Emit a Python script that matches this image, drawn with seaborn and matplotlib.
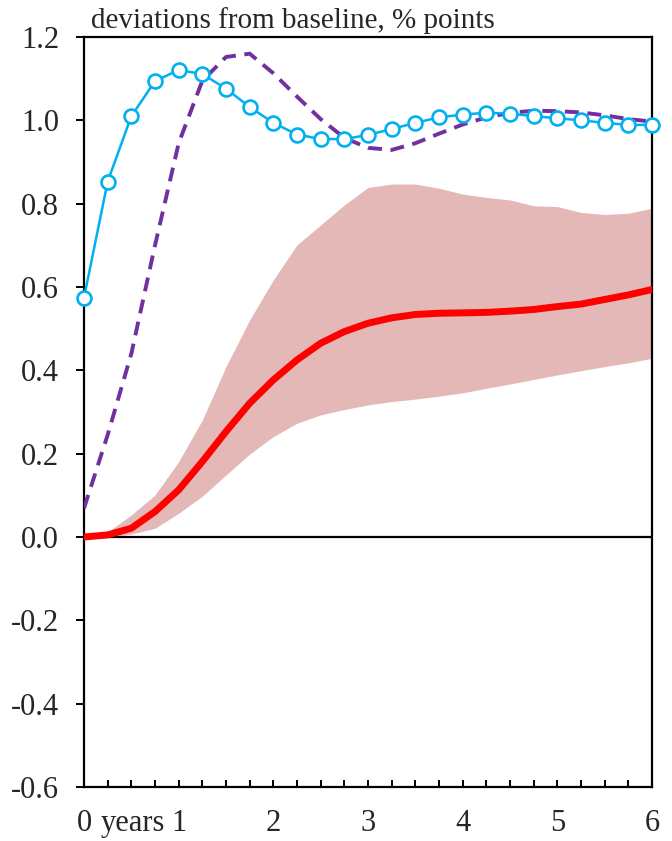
import numpy as np
import pandas as pd
import matplotlib
matplotlib.use("Agg")
import matplotlib.pyplot as plt
import seaborn as sns
from matplotlib.ticker import FormatStrFormatter, MultipleLocator

sns.set_style("white")
plt.rcParams["font.family"] = ["Liberation Serif", "DejaVu Serif"]
plt.rcParams["axes.unicode_minus"] = False

# === Data (quarterly, 0..24 quarters) ===
quarters = np.arange(25)
years = quarters / 4

cyan_vals = [0.574, 0.853, 1.010, 1.094, 1.121, 1.111, 1.076, 1.032, 0.994, 0.966,
             0.955, 0.955, 0.965, 0.979, 0.994, 1.007, 1.014, 1.018, 1.016, 1.010,
             1.005, 1.000, 0.994, 0.989, 0.989]
purple_vals = [0.069, 0.245, 0.440, 0.700, 0.945, 1.095, 1.152, 1.160, 1.113, 1.057,
               1.003, 0.958, 0.934, 0.929, 0.945, 0.968, 0.990, 1.007, 1.018, 1.023,
               1.022, 1.019, 1.012, 1.003, 0.997]
red_vals = [0.0, 0.005, 0.021, 0.061, 0.113, 0.181, 0.253, 0.321, 0.377, 0.425,
            0.465, 0.493, 0.513, 0.526, 0.534, 0.537, 0.538, 0.539, 0.542, 0.546,
            0.553, 0.559, 0.570, 0.581, 0.594]
band_upper = [0.0, 0.012, 0.053, 0.101, 0.181, 0.281, 0.409, 0.521, 0.617, 0.701,
              0.749, 0.797, 0.839, 0.847, 0.847, 0.837, 0.823, 0.815, 0.809, 0.795,
              0.793, 0.779, 0.774, 0.777, 0.789]
band_lower = [0.0, 0.0, 0.007, 0.021, 0.057, 0.098, 0.149, 0.199, 0.241, 0.273,
              0.293, 0.306, 0.317, 0.325, 0.331, 0.338, 0.346, 0.357, 0.367, 0.378,
              0.389, 0.399, 0.409, 0.418, 0.429]

df = pd.DataFrame({"years": years, "cyan": cyan_vals, "purple": purple_vals,
                   "red": red_vals, "upper": band_upper, "lower": band_lower})

# === Plot ===
fig = plt.figure(figsize=(6.72, 8.41), dpi=100)
ax = fig.add_axes([84 / 672, 1 - 787 / 841, 568 / 672, 750 / 841])

ax.fill_between(df["years"], df["lower"], df["upper"], color="#E4B8B7", lw=0, zorder=1)
ax.axhline(0, color="black", lw=1.6, zorder=2)
sns.lineplot(data=df, x="years", y="red", ax=ax, color="#FF0000", lw=5, zorder=3)
sns.lineplot(data=df, x="years", y="purple", ax=ax, color="#7030A0", lw=2.8,
             dashes=False, zorder=4).lines[-1].set_dashes((3.6, 2.2))
sns.lineplot(data=df, x="years", y="cyan", ax=ax, color="#00B0F0", lw=1.8,
             marker="o", markersize=10, markerfacecolor="white",
             markeredgecolor="#00B0F0", markeredgewidth=1.9, zorder=5, clip_on=False)

ax.set_xlim(0, 6)
ax.set_ylim(-0.6, 1.2)
ax.set_xlabel("")
ax.set_ylabel("")

for s in ax.spines.values():
    s.set_color("black")
    s.set_linewidth(1.6)

ax.xaxis.set_major_locator(MultipleLocator(1))
ax.xaxis.set_minor_locator(MultipleLocator(0.25))
ax.yaxis.set_major_locator(MultipleLocator(0.2))
ax.yaxis.set_major_formatter(FormatStrFormatter("%.1f"))
ax.tick_params(axis="x", which="both", direction="in", length=5, width=1.4,
               color="black", labelsize=22, pad=16, bottom=True)
ax.tick_params(axis="y", which="major", direction="out", length=6, width=1.4,
               color="black", labelsize=22, pad=12, left=True)

# "years" sits between the 0 and 1 labels
ax.text(0.52, -16 / 72 * 100 / 750, "years", transform=ax.get_xaxis_transform(),
        ha="center", va="top", fontsize=22)

fig.text(91 / 672, 1 - 28 / 841, "deviations from baseline, % points",
         ha="left", va="baseline", fontsize=21)

plt.savefig("out.png", dpi=100)
